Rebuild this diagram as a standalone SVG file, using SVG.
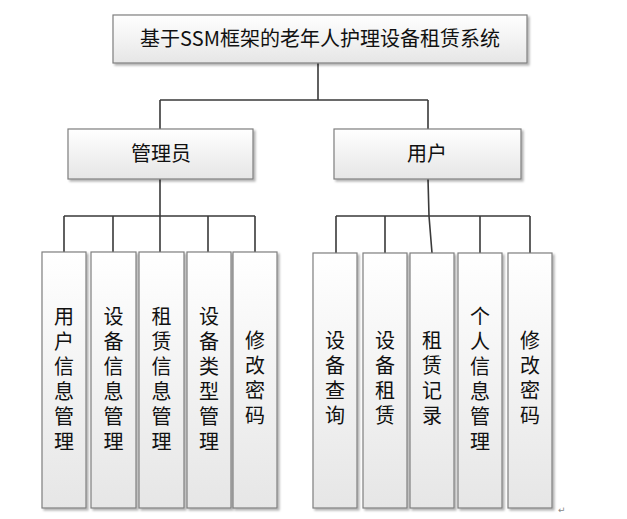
<svg xmlns="http://www.w3.org/2000/svg" width="627" height="519" viewBox="0 0 627 519">
<defs>
<linearGradient id="g" x1="0" y1="0" x2="0" y2="1">
<stop offset="0" stop-color="#ffffff"/>
<stop offset="1" stop-color="#e6e6e6"/>
</linearGradient>
<filter id="sh" x="-10%" y="-10%" width="130%" height="130%">
<feDropShadow dx="2" dy="2" stdDeviation="1.2" flood-color="#000" flood-opacity="0.3"/>
</filter>
</defs>
<style>
.box{fill:url(#g);stroke:#7f7f7f;stroke-width:1.2;filter:url(#sh)}
.t{font-family:"Noto Sans CJK SC","Liberation Serif",sans-serif;font-size:20px;fill:#111;text-anchor:middle}
.v{font-family:"Noto Sans CJK SC",sans-serif;font-size:20px;fill:#111;text-anchor:middle;writing-mode:vertical-rl;letter-spacing:5px}
.c{fill:none;stroke:#3a3a3a;stroke-width:1.6}
</style>
<rect width="627" height="519" fill="#fff"/>
<g id="connectors">
<path class="c" d="M318 63V100M160 100H428M160 100V129M428 100V129"/>
<path class="c" d="M160 179V216M64 216H255M64 216V252M113 216V252M160 216V252M208 216V252M255 216V252"/>
<path class="c" d="M428 179L429 216M336 216H530M336 216V253M385 216V253M429 216L432 253M480 216V253M530 216V253"/>
</g>
<g id="root">
<rect class="box" x="113" y="15" width="414" height="48"/>
<text class="t" x="320" y="46">基于SSM框架的老年人护理设备租赁系统</text>
</g>
<g id="admin">
<rect class="box" x="68" y="129" width="185" height="50"/>
<text class="t" x="161" y="161">管理员</text>
</g>
<g id="user">
<rect class="box" x="334" y="129" width="187" height="50"/>
<text class="t" x="427" y="161">用户</text>
</g>
<g id="a1">
<rect class="box" x="42" y="252" width="44" height="256"/>
<text class="v" x="64" y="381">用户信息管理</text>
</g>
<g id="a2">
<rect class="box" x="91" y="252" width="45" height="256"/>
<text class="v" x="113.5" y="381">设备信息管理</text>
</g>
<g id="a3">
<rect class="box" x="139" y="252" width="45" height="256"/>
<text class="v" x="161.5" y="381">租赁信息管理</text>
</g>
<g id="a4">
<rect class="box" x="187" y="252" width="44" height="256"/>
<text class="v" x="209" y="381">设备类型管理</text>
</g>
<g id="a5">
<rect class="box" x="233" y="252" width="44" height="256"/>
<text class="v" x="255" y="380">修改密码</text>
</g>
<g id="u1">
<rect class="box" x="313" y="253" width="44" height="255"/>
<text class="v" x="335" y="380">设备查询</text>
</g>
<g id="u2">
<rect class="box" x="363" y="253" width="44" height="255"/>
<text class="v" x="385" y="380">设备租赁</text>
</g>
<g id="u3">
<rect class="box" x="410" y="253" width="44" height="255"/>
<text class="v" x="432" y="380">租赁记录</text>
</g>
<g id="u4">
<rect class="box" x="458" y="253" width="44" height="255"/>
<text class="v" x="480" y="381">个人信息管理</text>
</g>
<g id="u5">
<rect class="box" x="508" y="253" width="44" height="255"/>
<text class="v" x="530" y="380">修改密码</text>
</g>
<text x="558" y="513" font-family="DejaVu Sans, sans-serif" font-size="9" fill="#888">↵</text>
</svg>
